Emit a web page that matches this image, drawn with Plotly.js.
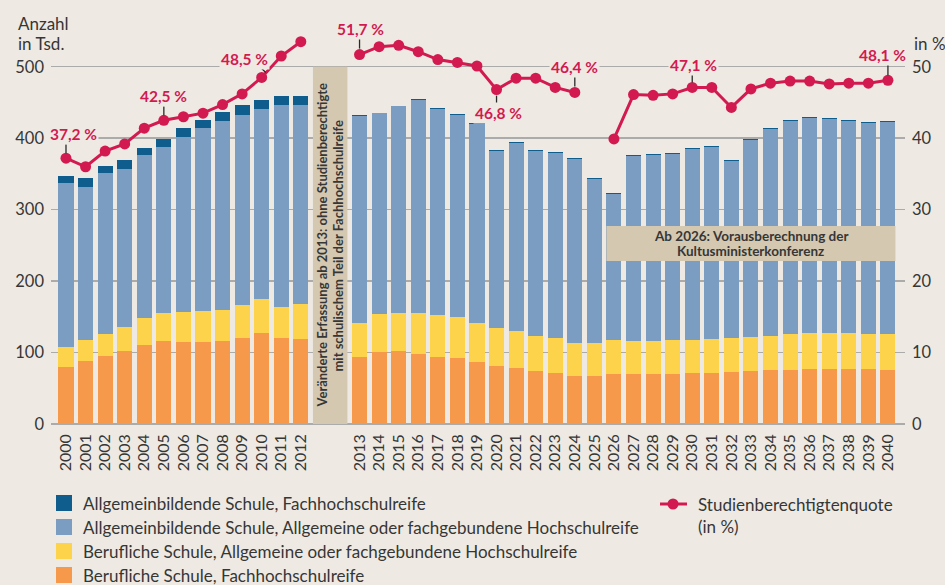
<!DOCTYPE html>
<html>
<head>
<meta charset="utf-8">
<script src="https://cdn.plot.ly/plotly-3.0.1.min.js"></script>
<style>html,body{margin:0;padding:0;background:#EEEAE3;}#chart{width:945px;height:585px;}</style>
</head>
<body>
<div id="chart"></div>
<script>
// ---------- data (Tsd. / %) ----------
const years = [2000,2001,2002,2003,2004,2005,2006,2007,2008,2009,2010,2011,2012,
  2013,2014,2015,2016,2017,2018,2019,2020,2021,2022,2023,2024,2025,2026,2027,2028,2029,
  2030,2031,2032,2033,2034,2035,2036,2037,2038,2039,2040];
// Berufliche Schule, Fachhochschulreife
const berufFHR = [80,88.2,95.7,102.2,110.6,116.2,114.8,114.8,116.2,120.4,127.4,120.4,119,
  93.8,100.8,102.2,98,93.8,92.4,86.8,81.2,78.4,74.2,71.4,67.2,67.2,70,70,70,70,
  71.4,71.4,72.8,74.2,75.6,75.6,77,77,77,77,75.6];
// Berufliche Schule, Allgemeine oder fachgebundene Hochschulreife
const berufAHR = [27.8,29.4,30.3,33.6,37.8,39.2,42.1,43.5,43.5,46.3,47.7,43.5,49.1,
  47.7,53.2,53.2,57.4,58.9,57.5,54.7,53.3,51.9,49.1,49.1,46.3,46.3,47.6,46.2,46.2,47.6,
  46.2,47.6,47.6,47.6,47.6,50.4,50.4,50.4,50.4,49,50.4];
// Allgemeinbildende Schule, Allgemeine oder fachgebundene Hochschulreife
const allgAHR = [229.7,214.3,224.6,221.3,227.4,231.6,244.1,255.3,263.7,266.1,266.1,282.9,278.7,
  289.9,280.6,289,298.4,288.5,282.5,278.3,247.9,262.8,259.1,259.1,257.7,229.6,204.5,258.7,260.5,260.1,
  267.5,268.9,247.5,276,289.5,298.4,300.8,299.4,296.6,295.6,296.5];
// Allgemeinbildende Schule, Fachhochschulreife
const allgFHR = [9.8,12.6,10.7,12.6,10.8,12.2,13.6,12.2,13.6,14,12.6,12.6,12.6,
  0.5,1.2,1.2,0.5,0.5,1.2,1.2,1.2,1.2,0.5,0.5,1.2,1.2,0.5,1.2,0.5,1.2,
  0.5,1.2,1.2,0.5,1.2,0.5,1.2,1.2,1.2,0.5,1.2];
// Studienberechtigtenquote (in %)
const quote = [37.2,36.0,38.2,39.2,41.4,42.5,43.0,43.5,44.7,46.2,48.5,51.5,53.5,
  51.7,52.8,53.0,52.1,51.0,50.6,50.1,46.8,48.4,48.4,47.1,46.4,null,39.9,46.1,46.0,46.2,
  47.1,47.1,44.3,46.9,47.7,48.0,48.0,47.6,47.7,47.7,48.1];
const labelYears = [2000,2005,2010,2013,2020,2024,2030,2040];

const seriesNames = [
  'Allgemeinbildende Schule, Fachhochschulreife',
  'Allgemeinbildende Schule, Allgemeine oder fachgebundene Hochschulreife',
  'Berufliche Schule, Allgemeine oder fachgebundene Hochschulreife',
  'Berufliche Schule, Fachhochschulreife'
];
const lineName = ['Studienberechtigtenquote', '(in %)'];
const noteVertical = ['Veränderte Erfassung ab 2013: ohne Studienberechtigte', 'mit schulischem Teil der Fachhochschulreife'];
const noteHorizontal = ['Ab 2026: Vorausberechnung der', 'Kultusministerkonferenz'];

// ---------- styling ----------
const BG = '#EEEAE3';
const C_DARK = '#0F5D8D', C_LIGHT = '#7A9DC1', C_YEL = '#FDD34B', C_ORA = '#F7994A', C_RED = '#D21A50';
const C_BOX = '#D4C8B1', C_TXT = '#363636', C_GRID = '#ABABAB';
const FONT = 'Lato, "Open Sans", sans-serif';

// x position: a gap of two slots after 2012
const xpos = years.map(y => y <= 2012 ? y - 2000 : y - 1998);

// line with break in gaps
const lx = [], ly = [];
xpos.forEach((x, i) => {
  if (i > 0 && x - xpos[i-1] > 1) { lx.push(null); ly.push(null); }
  lx.push(x); ly.push(quote[i]);
});

const barW = 0.77;
const mkBar = (vals, color, name) => ({
  type: 'bar', x: xpos, y: vals, name: name, width: barW,
  marker: {color: color, line: {width: 0}}, showlegend: false, hoverinfo: 'y'
});
const traces = [
  mkBar(berufFHR, C_ORA, seriesNames[3]),
  mkBar(berufAHR, C_YEL, seriesNames[2]),
  mkBar(allgAHR, C_LIGHT, seriesNames[1]),
  mkBar(allgFHR, C_DARK, seriesNames[0]),
  {type: 'scatter', mode: 'lines+markers', x: lx, y: ly, yaxis: 'y2', connectgaps: false,
   line: {color: C_RED, width: 3}, marker: {color: C_RED, size: 11}, showlegend: false, name: lineName.join(' ')}
];

// plot area in pixels
const L = 51, T = 31, W = 854, H = 393;
const px = p => (p - L) / W;
const py = p => (T + H - p) / H;

const shapes = [];
const annotations = [];

// note boxes
const gapCenter = (xpos[12] + xpos[13]) / 2;
shapes.push({type: 'rect', xref: 'x', yref: 'y', x0: gapCenter - 0.88, x1: gapCenter + 0.88, y0: 0, y1: 500,
  fillcolor: C_BOX, line: {width: 0}, layer: 'above'});
noteVertical.forEach((t, k) => annotations.push({xref: 'x', yref: 'y', x: gapCenter, y: 250, xshift: (k === 0 ? -8 : 8),
  text: '<b>' + t + '</b>', textangle: -90, showarrow: false, font: {family: FONT, size: 13, color: C_TXT}}));

const i2026 = years.indexOf(2026), i2040 = years.indexOf(2040);
shapes.push({type: 'rect', xref: 'x', yref: 'y', x0: xpos[i2026] - barW/2, x1: xpos[i2040] + barW/2, y0: 228, y1: 277,
  fillcolor: C_BOX, line: {width: 0}, layer: 'above'});
noteHorizontal.forEach((t, k) => annotations.push({xref: 'x', yref: 'y', x: (xpos[i2026] + xpos[i2040]) / 2, y: 252.5,
  yshift: (k === 0 ? 7.5 : -7.5), text: '<b>' + t + '</b>', showarrow: false, font: {family: FONT, size: 13.5, color: C_TXT}}));

// value labels with leader lines: [year, xshift, yshift, leader x0,y0,x1,y1 (px rel. marker)]
const labelPlace = {
  2000: [8, 24, 0, 5, 0, 14],
  2005: [0, 24, 0, 5, 0, 14],
  2010: [-17, 18, 4, 5, -2, 11],
  2013: [1, 25.5, 0, 6, 0, 16],
  2020: [2, -23, 0, -6, 0, -15],
  2024: [0, 25.5, 0, 6, 0, 16],
  2030: [1, 22, 0, 5, 0, 14],
  2040: [-5.5, 25.5, 0, 5, 0, 17]
};
labelYears.forEach(y => {
  const i = years.indexOf(y), p = labelPlace[y];
  const txt = quote[i].toFixed(1).replace('.', ',') + ' %';
  annotations.push({xref: 'x', yref: 'y2', x: xpos[i], y: quote[i], xshift: p[0], yshift: p[1],
    text: '<b>' + txt + '</b>', showarrow: false, bgcolor: BG, borderpad: 1,
    font: {family: FONT, size: 15.5, color: C_RED}});
  shapes.push({type: 'line', xref: 'x', yref: 'y2', xsizemode: 'pixel', ysizemode: 'pixel',
    xanchor: xpos[i], yanchor: quote[i], x0: p[2], y0: p[3], x1: p[4], y1: p[5],
    line: {color: '#2a2a2a', width: 1.3}});
});

// axis captions
annotations.push({xref: 'paper', yref: 'paper', x: px(16), y: py(23), xanchor: 'left', yanchor: 'middle', text: 'Anzahl',
  showarrow: false, font: {family: FONT, size: 17, color: C_TXT}});
annotations.push({xref: 'paper', yref: 'paper', x: px(16), y: py(43), xanchor: 'left', yanchor: 'middle', text: 'in Tsd.',
  showarrow: false, font: {family: FONT, size: 17, color: C_TXT}});
annotations.push({xref: 'paper', yref: 'paper', x: px(912), y: py(43), xanchor: 'left', yanchor: 'middle', text: 'in %',
  showarrow: false, font: {family: FONT, size: 17, color: C_TXT}});

// manual legend
const legColors = [C_DARK, C_LIGHT, C_YEL, C_ORA];
const rowsY = [503, 527, 551, 575];
seriesNames.forEach((n, k) => {
  shapes.push({type: 'rect', xref: 'paper', yref: 'paper', x0: px(56), x1: px(72), y0: py(rowsY[k] + 8), y1: py(rowsY[k] - 8),
    fillcolor: legColors[k], line: {width: 0}});
  annotations.push({xref: 'paper', yref: 'paper', x: px(81), y: py(rowsY[k]), xanchor: 'left', yanchor: 'middle',
    text: n, showarrow: false, font: {family: FONT, size: 17, color: C_TXT}});
});
shapes.push({type: 'line', xref: 'paper', yref: 'paper', x0: px(660), x1: px(687), y0: py(504), y1: py(504),
  line: {color: C_RED, width: 3}});
shapes.push({type: 'circle', xref: 'paper', yref: 'paper', x0: px(667.5), x1: px(678.5), y0: py(509.5), y1: py(498.5),
  fillcolor: C_RED, line: {width: 0}});
lineName.forEach((t, k) => annotations.push({xref: 'paper', yref: 'paper', x: px(696), y: py(504 + 22 * k), xanchor: 'left', yanchor: 'middle',
  text: t, showarrow: false, font: {family: FONT, size: 17, color: C_TXT}}));

const layout = {
  width: 945, height: 585,
  paper_bgcolor: BG, plot_bgcolor: BG,
  margin: {l: L, r: 945 - L - W, t: T, b: 585 - T - H, pad: 0},
  barmode: 'stack', bargap: 0,
  showlegend: false,
  font: {family: FONT, color: C_TXT},
  xaxis: {range: [-0.766, -0.766 + W / 19.57], tickmode: 'array', tickvals: xpos, ticktext: years.map(String),
    tickangle: -90, ticks: '', showgrid: false, zeroline: false, showline: false,
    tickfont: {family: FONT, size: 16, color: C_TXT}, ticklabelstandoff: 6, fixedrange: true},
  yaxis: {range: [0, 550], tickmode: 'array', tickvals: [0,100,200,300,400,500], ticks: '',
    showgrid: true, gridcolor: C_GRID, gridwidth: 1.5, zeroline: true, zerolinecolor: C_GRID, zerolinewidth: 2,
    showline: false, tickfont: {family: FONT, size: 16.5, color: C_TXT}, ticklabelstandoff: 6, fixedrange: true},
  yaxis2: {range: [0, 55], overlaying: 'y', side: 'right', tickmode: 'array', tickvals: [0,10,20,30,40,50], ticks: '',
    showgrid: false, zeroline: false, showline: false, tickfont: {family: FONT, size: 16.5, color: C_TXT},
    ticklabelstandoff: 6, fixedrange: true},
  shapes: shapes,
  annotations: annotations
};

Plotly.newPlot('chart', traces, layout, {displayModeBar: false, staticPlot: true});
</script>
</body>
</html>
